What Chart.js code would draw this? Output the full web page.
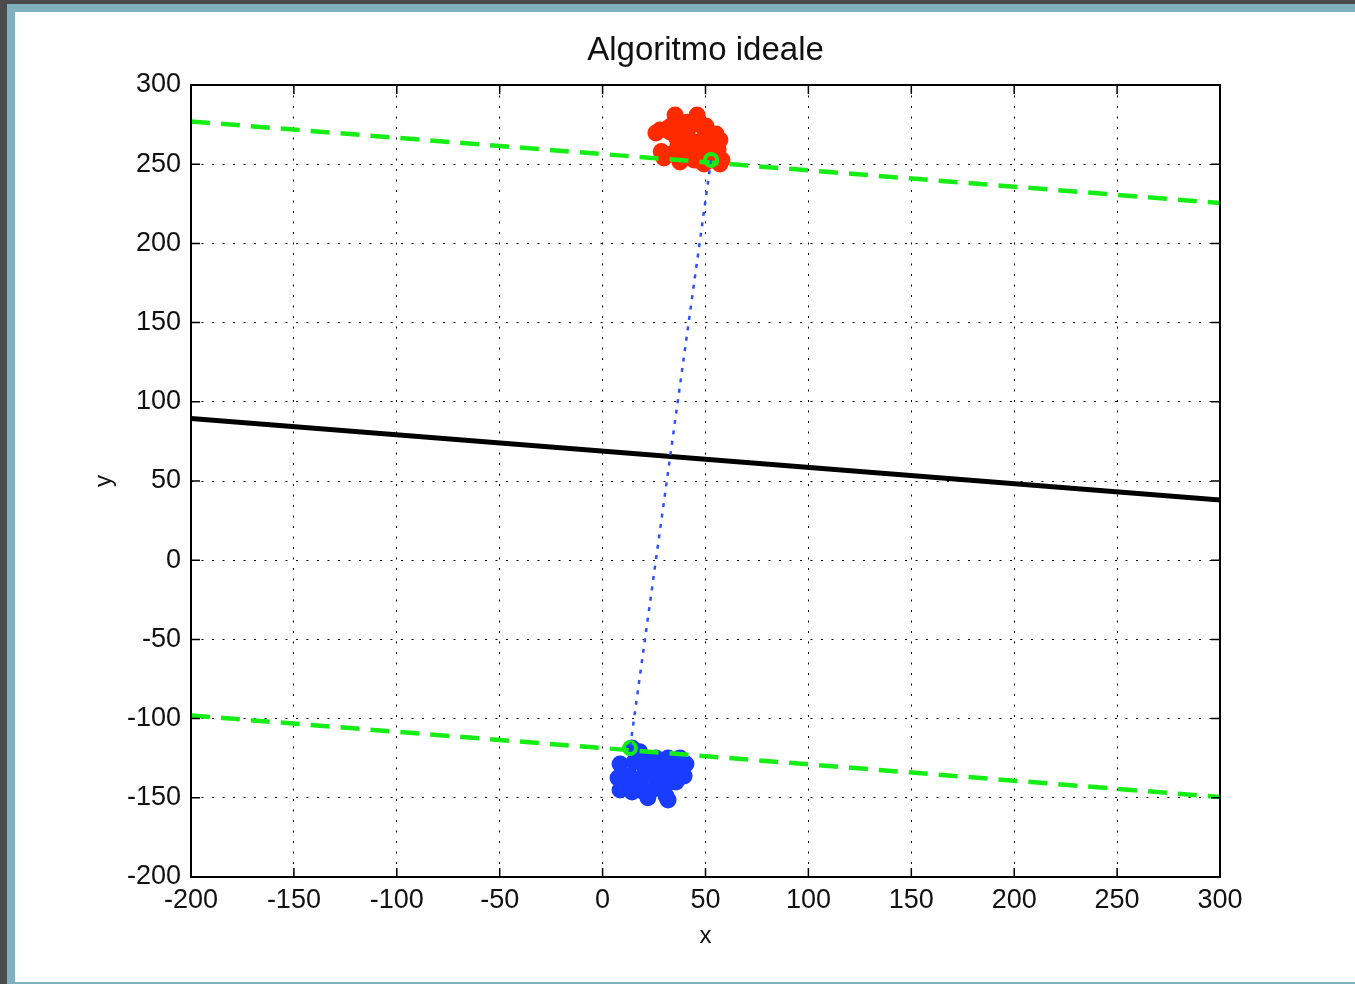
<!DOCTYPE html>
<html><head><meta charset="utf-8">
<script src="https://cdn.jsdelivr.net/npm/chart.js@4.4.0/dist/chart.umd.min.js"></script>
<style>
html,body{margin:0;padding:0;width:1355px;height:984px;overflow:hidden;background:#4b4b4b;}
#f1{position:absolute;left:7px;top:4px;width:1348px;height:980px;background:#80b1bf;}
#f2{position:absolute;left:15px;top:12px;width:1340px;height:970px;background:#fff;}
#wrap{position:absolute;left:0;top:0;width:1355px;height:984px;}
</style></head><body>
<div id="f1"></div><div id="f2"></div>
<div id="wrap"><canvas id="c" width="1355" height="984"></canvas></div>
<script>
const titleText = 'Algoritmo ideale';
const xLabel = 'x';
const yLabel = 'y';
const xTicks = [-200,-150,-100,-50,0,50,100,150,200,250,300];
const yTicks = [-200,-150,-100,-50,0,50,100,150,200,250,300];

const redX = [35.2,45.9,36.6,45.4,41.0,27.9,25.9,32.7,31.0,50.2,55.1,57.0,51.2,46.4,41.5,36.6,33.7,29.8,39.6,45.4,51.2,56.1,37.6,44.4,53.2,58.0,49.3,57.0,41.0,50.0,40.0,46.0,36.0,52.0,28.5,33.0];
const redY = [281.1,281.1,275.4,275.4,269.7,271.6,269.7,270.3,272.0,274.1,269.1,265.3,265.3,264.0,264.0,261.5,256.4,253.9,255.2,257.7,257.7,259.0,251.4,252.7,252.7,252.7,250.1,250.1,276.5,270.0,258.5,252.5,266.5,262.0,258.0,274.0];

const blueX = [14.3,8.5,7.5,8.5,14.3,20.1,13.3,15.3,20.1,20.6,25.9,31.8,37.6,40.5,39.6,35.7,29.8,27.9,30.8,31.8,24.0,18.2,26.0,34.0,25.0,12.0,18.0,33.0,22.0];
const blueY = [-118.6,-128.7,-137.5,-145.1,-146.3,-146.3,-136.2,-127.4,-126.1,-133.7,-124.9,-124.9,-124.9,-128.7,-136.2,-140.0,-132.4,-141.3,-148.9,-151.4,-145.1,-140.0,-138.0,-133.0,-130.0,-142.0,-121.0,-140.0,-150.0];

const lineX = [-200, 300];
const hyperY = [89.5, 38];
const upperY = [277, 225.5];
const lowerY = [-98, -149.5];

const svX = [52.7, 13.3];
const svY = [252.7, -118.6];

const pts = (xs, ys) => xs.map((v, i) => ({x: v, y: ys[i]}));

const boxPlugin = {
  id: 'box',
  afterDraw(chart) {
    const {ctx, chartArea: a, scales: {x, y}} = chart;
    ctx.save();
    ctx.strokeStyle = '#000';
    ctx.lineWidth = 1.5;
    ctx.beginPath();
    xTicks.forEach(v => {
      const p = x.getPixelForValue(v);
      ctx.moveTo(p, a.bottom); ctx.lineTo(p, a.bottom - 9);
      ctx.moveTo(p, a.top); ctx.lineTo(p, a.top + 9);
    });
    yTicks.forEach(v => {
      const p = y.getPixelForValue(v);
      ctx.moveTo(a.left, p); ctx.lineTo(a.left + 9, p);
      ctx.moveTo(a.right, p); ctx.lineTo(a.right - 9, p);
    });
    ctx.stroke();
    ctx.lineWidth = 2;
    ctx.strokeRect(a.left, a.top, a.right - a.left, a.bottom - a.top);
    ctx.restore();
  }
};

const green = '#14ee14';
const fontFam = '"Liberation Sans", Arial, sans-serif';

new Chart(document.getElementById('c'), {
  type: 'scatter',
  data: {
    datasets: [
      {label: 'red', data: pts(redX, redY), backgroundColor: '#ff2a00', borderWidth: 0, pointRadius: 8.5, order: 10},
      {label: 'blue', data: pts(blueX, blueY), backgroundColor: '#1a3cff', borderWidth: 0, pointRadius: 8.5, order: 10},
      {label: 'hyper', type: 'line', data: pts(lineX, hyperY), borderColor: '#000', borderWidth: 5, pointRadius: 0, order: 4},
      {label: 'upper', type: 'line', data: pts(lineX, upperY), borderColor: green, borderWidth: 4.5, borderDash: [19, 11], pointRadius: 0, order: 5},
      {label: 'lower', type: 'line', data: pts(lineX, lowerY), borderColor: green, borderWidth: 4.5, borderDash: [19, 11], pointRadius: 0, order: 5},
      {label: 'sv', data: pts(svX, svY), backgroundColor: 'rgba(0,0,0,0)', borderColor: green, borderWidth: 4, pointRadius: 6, order: 3},
      {label: 'link', type: 'line', data: pts(svX, svY), borderColor: '#2d50ff', borderWidth: 2.5, borderDash: [4, 6.5], pointRadius: 0, order: 2}
    ]
  },
  options: {
    responsive: false,
    animation: false,
    events: [],
    layout: {padding: {left: 0, right: 135, top: 0, bottom: 0}},
    plugins: {
      legend: {display: false},
      tooltip: {enabled: false},
      title: {
        display: true, text: titleText, fullSize: false, color: '#111',
        font: {family: fontFam, size: 33, weight: 'normal'},
        padding: {top: 31, bottom: 14.4}
      }
    },
    scales: {
      x: {
        type: 'linear', min: -200, max: 300,
        afterBuildTicks: s => { s.ticks = xTicks.map(v => ({value: v})); },
        afterFit: s => { s.height = 107; },
        grid: {color: '#000', lineWidth: 1, drawTicks: false},
        border: {display: false, dash: [2, 8.5]},
        ticks: {color: '#111', padding: 7, maxRotation: 0, autoSkip: false, font: {family: fontFam, size: 27}},
        title: {display: true, text: xLabel, color: '#111', font: {family: fontFam, size: 24}, padding: {top: 0, bottom: 33}}
      },
      y: {
        type: 'linear', min: -200, max: 300,
        afterBuildTicks: s => { s.ticks = yTicks.map(v => ({value: v})); },
        afterFit: s => { s.width = 191; },
        grid: {color: '#000', lineWidth: 1, drawTicks: false},
        border: {display: false, dash: [2, 8.5]},
        ticks: {color: '#111', padding: 10, autoSkip: false, font: {family: fontFam, size: 27}},
        title: {display: true, text: yLabel, color: '#111', font: {family: fontFam, size: 24}, padding: {top: 90, bottom: 0}}
      }
    }
  },
  plugins: [boxPlugin]
});
</script>
</body></html>
